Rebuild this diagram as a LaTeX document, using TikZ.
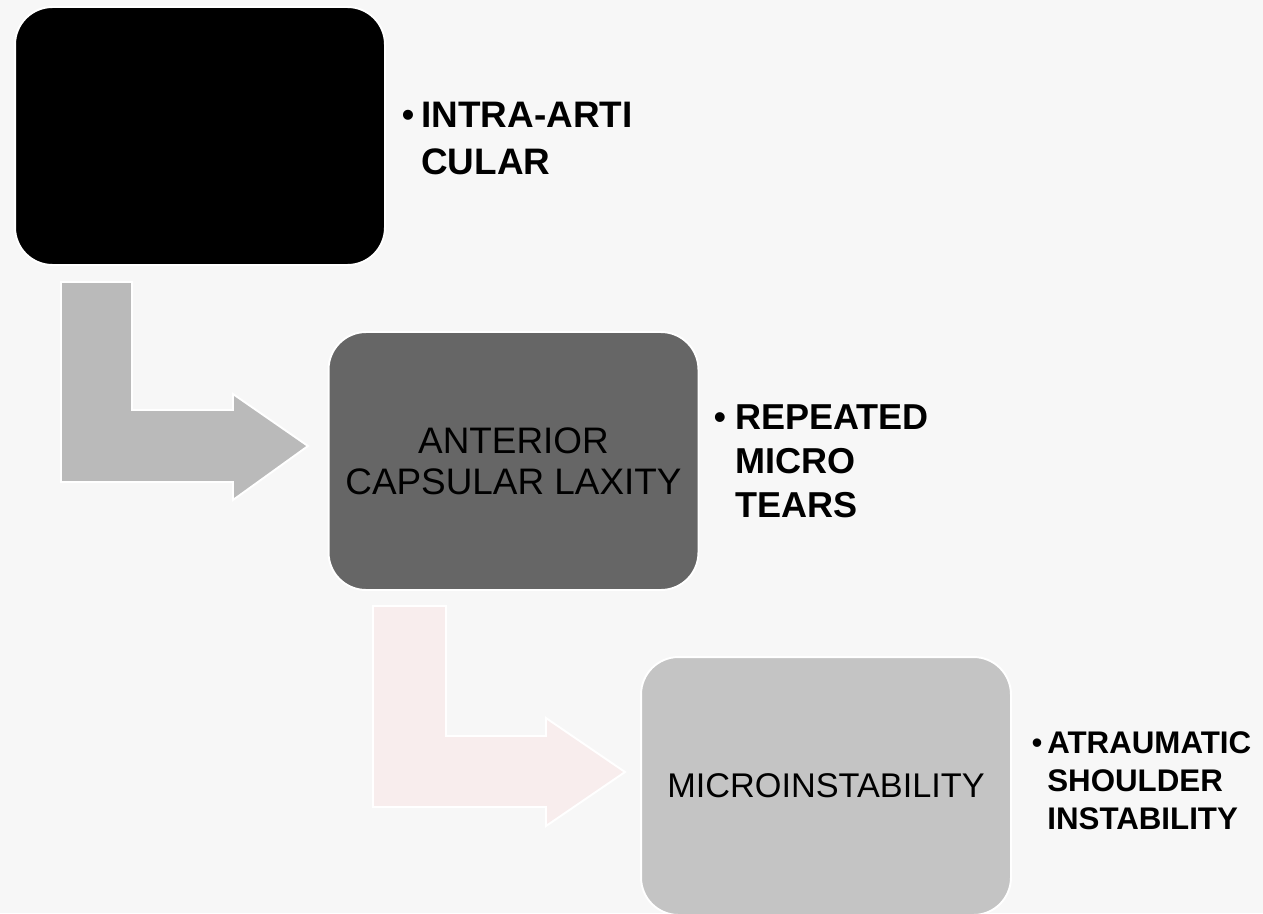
\documentclass[tikz,border=0pt]{standalone}
\usepackage{fontspec}
\setmainfont{Liberation Sans}
\definecolor{pagebg}{HTML}{F7F7F7}
\definecolor{boxdark}{HTML}{666666}
\definecolor{boxlight}{HTML}{C4C4C4}
\definecolor{arrowgray}{HTML}{BABABA}
\definecolor{arrowpink}{HTML}{F8EDED}

\begin{document}
\begin{tikzpicture}[x=0.02cm, y=-0.02cm,
  stagebox/.style={draw=white, line width=1.1pt, rounded corners=0.75cm,
    minimum width=7.4cm, minimum height=5.16cm, inner sep=0pt,
    align=center, font=\fontsize{21}{23.5}\selectfont},
  bentarrow/.style={draw=white, line width=1.1pt},
  bulletlabel/.style={anchor=base west, align=left, inner sep=0pt},
  bulletdot/.style={anchor=base, inner sep=0pt}]
  % Background
  \useasboundingbox[fill=pagebg] (0,0) rectangle (1263,913);

  % Draw the stage boxes
  \node[stagebox, fill=black] (intra) at (200,136) {};
  \node[stagebox, fill=boxdark] (laxity) at (513.5,461) {ANTERIOR\\CAPSULAR LAXITY};
  \node[stagebox, fill=boxlight, font=\fontsize{19.5}{23.5}\selectfont] (microinst) at (826,786) {MICROINSTABILITY};

  % Draw the bent arrows
  \filldraw[bentarrow, fill=arrowgray] (61,282) -- (132,282) -- (132,410) -- (233,410)
    -- (233,394) -- (308,446) -- (233,500) -- (233,482) -- (61,482) -- cycle;
  \filldraw[bentarrow, fill=arrowpink] (373,606) -- (446,606) -- (446,736) -- (546,736)
    -- (546,718) -- (625,772) -- (546,826) -- (546,807) -- (373,807) -- cycle;

  % Label the stages (base west is the baseline of the last line)
  \node[bulletdot, font=\fontsize{21}{26.6}\selectfont] (intradot) at (408,127) {•};
  \node[bulletlabel, font=\bfseries\fontsize{21}{26.6}\selectfont] (intralabel) at (421,174)
    {INTRA-ARTI\\CULAR};
  \node[bulletdot, font=\fontsize{20.5}{24.9}\selectfont] (laxitydot) at (720,429) {•};
  \node[bulletlabel, font=\bfseries\fontsize{20.5}{24.9}\selectfont] (laxitylabel) at (735,517)
    {REPEATED\\MICRO\\TEARS};
  \node[bulletdot, font=\fontsize{17.8}{21.5}\selectfont] (microdot) at (1037,753) {•};
  \node[bulletlabel, font=\bfseries\fontsize{17.8}{21.5}\selectfont] (microlabel) at (1047,829)
    {ATRAUMATIC\\SHOULDER\\INSTABILITY};
\end{tikzpicture}
\end{document}
